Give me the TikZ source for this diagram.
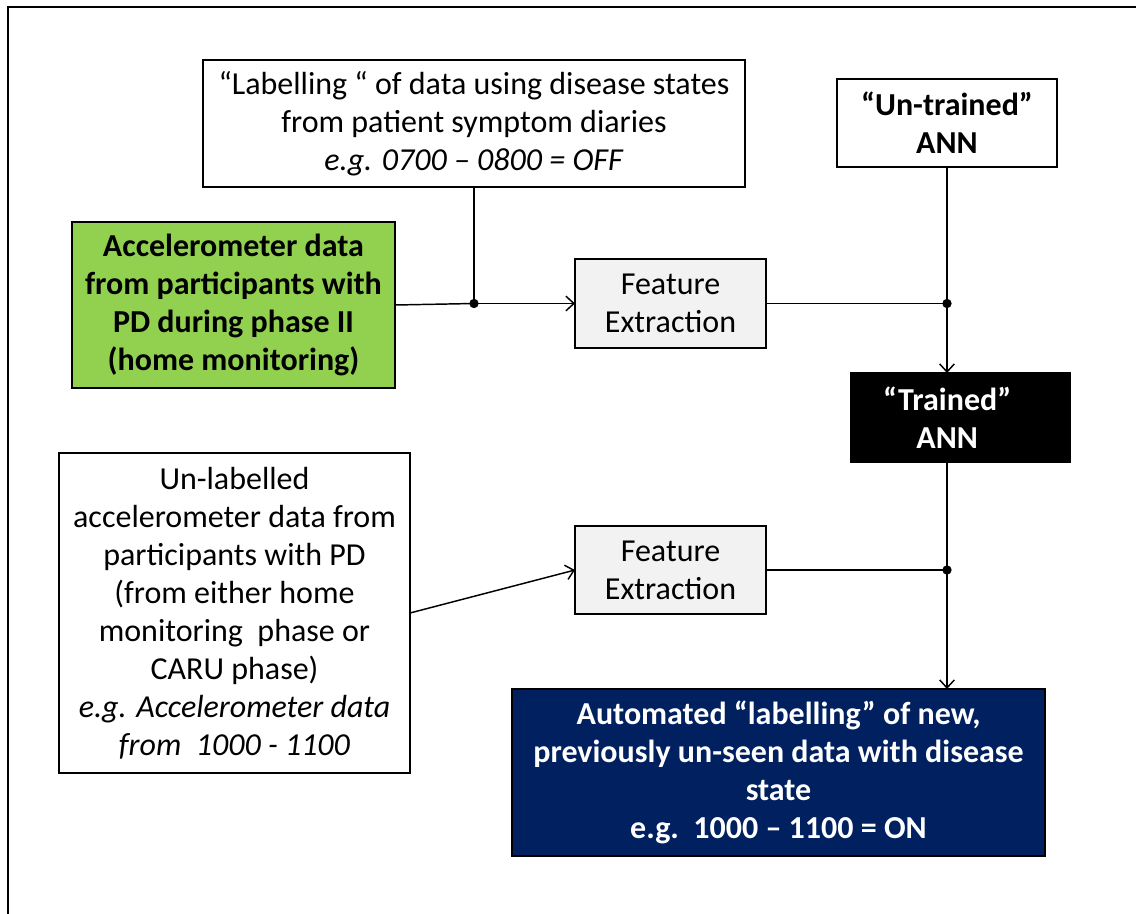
\documentclass[tikz,border=0pt]{standalone}
\usepackage{fontspec}
\setmainfont{Carlito}
\usetikzlibrary{positioning,calc,arrows.meta}
\definecolor{accgreen}{HTML}{92D050}
\definecolor{outblue}{HTML}{002060}
\definecolor{fegray}{HTML}{F2F2F2}

\begin{document}
\begin{tikzpicture}[x=0.75pt,y=-0.75pt,every node/.style={box},
				box/.style={draw,rectangle,line width=1.1pt,align=center,inner sep=0pt,outer sep=0pt,
					font=\fontsize{24}{28.5}\selectfont},
				fe/.style={fill=fegray,minimum width=143.25pt,minimum height=66.75pt},
				flow/.style={line width=1.1pt,-{Straight Barb[length=6pt,width=11pt]}},
				link/.style={line width=1.1pt}]
				\useasboundingbox (0,0) rectangle (1136,914);
				\draw[line width=1.1pt] (1136,7) -- (8,7) -- (8,914);
				\node (LABEL) [minimum width=406.5pt,minimum height=95.25pt] at (474,123.5)
					{“Labelling “ of data using disease states\\from patient symptom diaries\\\textit{e.g. 0700 – 0800 = OFF}};
				\node (ACC)   [fill=accgreen,minimum width=242.25pt,minimum height=124.5pt] at (233.5,305)
					{\bfseries Accelerometer data\\\bfseries from participants with\\\bfseries PD during phase II\\\bfseries (home monitoring)};
				\node (UNTR)  [minimum width=165pt,minimum height=66pt] at (947,123)
					{\bfseries “Un-trained”\\\bfseries ANN};
				\node (FE1)   [fe] at (670.5,303.5) {Feature\\Extraction};
				\node (TRAIN) [fe,fill=black,text=white,minimum width=164.25pt] at (960.5,417.5)
					{\bfseries\hspace*{-20pt}“Trained”\\\bfseries\hspace*{-20pt}ANN};
				\node (UNLAB) [minimum width=263.25pt,minimum height=240pt] at (234.5,613)
					{Un-labelled\\accelerometer data from\\participants with PD\\(from either home\\monitoring\ \ phase or\\CARU phase)\\\textit{e.g. Accelerometer data}\\\textit{from\ \ 1000 - 1100}};
				\node (FE2)   [fe,minimum height=66pt] at (670.5,570) {Feature\\Extraction};
				\node (OUT)   [fill=outblue,text=white,minimum width=399.75pt,minimum height=125.25pt] at (778.5,772.5)
					{\bfseries Automated “labelling” of new,\\\bfseries previously un-seen data with disease\\\bfseries state\\\bfseries e.g.\ \ 1000 – 1100 = ON};
				\coordinate (J1) at (LABEL.south |- FE1.west);
				\coordinate (J2) at (UNTR.south |- FE1.east);
				\coordinate (J3) at (J2 |- FE2.east);

				\draw[link] (ACC.east) -- (J1);
				\draw[link] (LABEL.south) -- (J1);
				\draw[flow] (J1) -- (FE1.west);
				\draw[link] (FE1.east) -- (J2);
				\draw[link] (UNTR.south) -- (J2);
				\draw[flow] (J2) -- (J2 |- TRAIN.north);
				\draw[link] (J3 |- TRAIN.south) -- (J3);
				\draw[link] (FE2.east) -- (J3);
				\draw[flow] (J3) -- (J3 |- OUT.north);
				\draw[flow] (UNLAB.east) -- (FE2.west);
				\fill (J1) circle (3.5pt) (J2) circle (3.5pt) (J3) circle (3.5pt);
			\end{tikzpicture}
\end{document}
